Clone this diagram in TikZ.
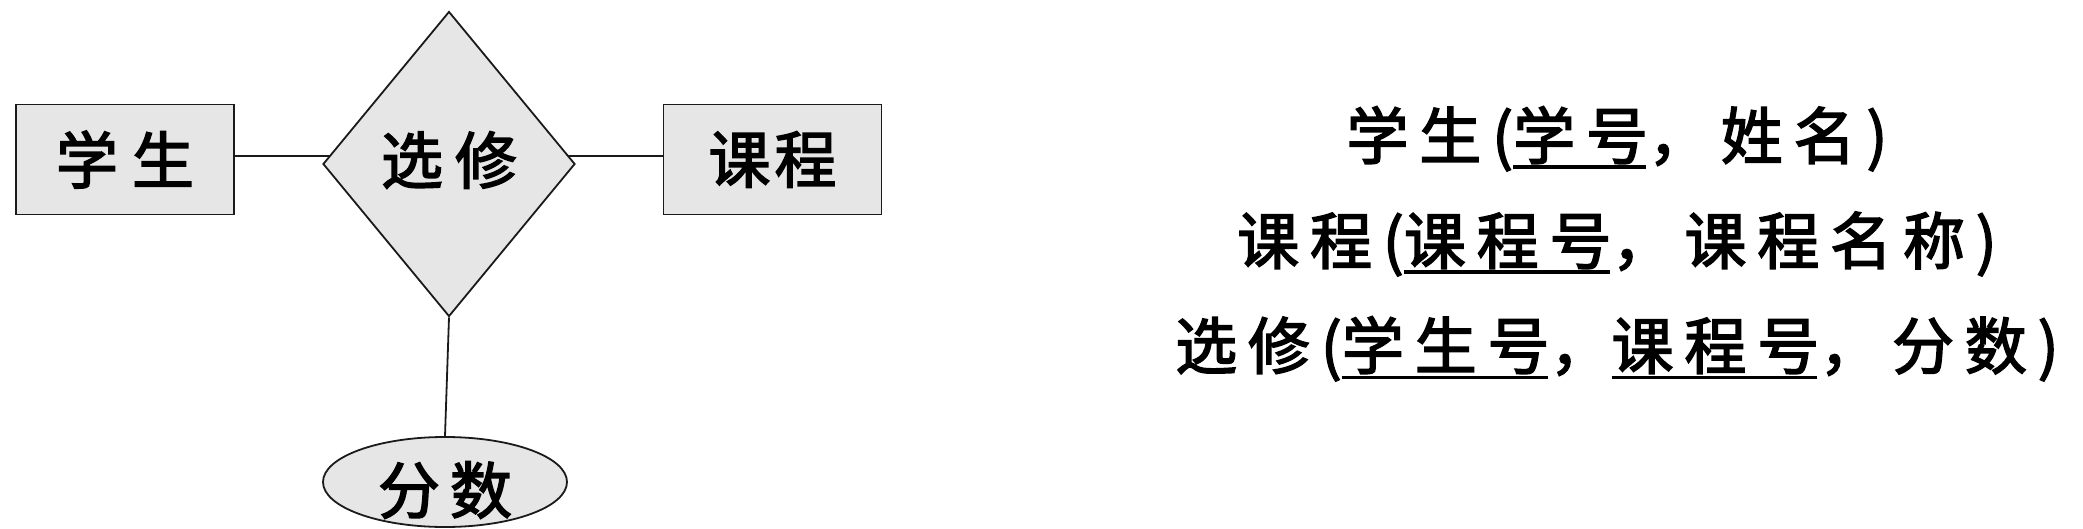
\documentclass[tikz,border=0pt]{standalone}
\usepackage{fontspec}
\setmainfont{Noto Sans CJK SC}[FakeBold=2.5]
\usetikzlibrary{shapes.geometric,backgrounds}
\definecolor{fillg}{HTML}{E6E6E6}
\definecolor{lineg}{HTML}{1A1A1A}
\newcommand\ulw[1]{\setbox0\hbox{#1}\rlap{\rule[-10pt]{\dimexpr\wd0-2pt\relax}{3.5pt}}\box0}
\begin{document}
\begin{tikzpicture}[x=1pt,y=-1pt,
  shapebase/.style={draw=lineg, fill=fillg, line width=1.8pt, inner sep=0pt,
    font=\fontsize{62}{70}\selectfont, text=black},
  ent/.style={shapebase, rectangle, minimum width=218pt, minimum height=110pt},
  rel/.style={shapebase, diamond, minimum width=252pt, minimum height=305pt},
  attr/.style={shapebase, ellipse, minimum width=244pt, minimum height=90pt},
  conn/.style={draw=lineg, line width=1.8pt},
  txt/.style={inner sep=0pt, anchor=base, text=black,
    font=\fontsize{62}{70}\selectfont\addfontfeatures{LetterSpace=17.5}}]
\useasboundingbox (0,0) rectangle (2083,529);
\node[ent] (xs) at (125,159.5) {学\hspace{14pt}生};
\node[ent] (kc) at (772.5,159.5) {课\hspace{4pt}程};
\node[rel] (dm) at (449,164) {\raisebox{4pt}[\height][\depth]{选\hspace{12pt}修}};
\node[attr] (fs) at (445,482) {\raisebox{-8pt}[\height][\depth]{分\hspace{10pt}数}};
\begin{scope}[on background layer]
\draw[conn] ([yshift=3.5pt]xs.east) -- ([yshift=3.5pt]xs.east -| dm.center);
\draw[conn] ([yshift=3.5pt]kc.west) -- ([yshift=3.5pt]kc.west -| dm.center);
\draw[conn] (dm.south) -- (fs.north);
\end{scope}
\node[txt] (t1) at (1617,159) {学生(\ulw{学号}，姓名)};
\node[txt] (t2) at (1617,264) {课程(\ulw{课程号}，课程名称)};
\node[txt] (t3) at (1617,369) {选修(\ulw{学生号}，\ulw{课程号}，分数)};
\end{tikzpicture}
\end{document}
